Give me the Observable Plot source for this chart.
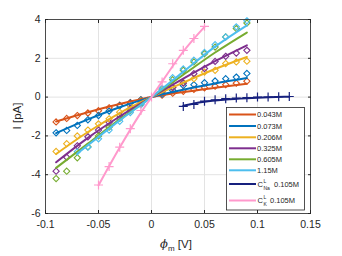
<!DOCTYPE html>
<html><head><meta charset="utf-8">
<script src="https://cdn.jsdelivr.net/npm/d3@7"></script>
<script src="https://cdn.jsdelivr.net/npm/@observablehq/plot@0.6"></script>
<style>
body{margin:0;background:#fff;}
#chart{position:relative;width:342px;height:256px;}
svg{font-family:"Liberation Sans",Arial,sans-serif;}
</style></head><body><div id="chart"></div>
<script>
const seriesNames = ["0.043M","0.073M","0.206M","0.325M","0.605M","1.15M","CNa","CK"];
const seriesColors = ["#D95319","#0072BD","#EDB120","#7E2F8E","#77AC30","#4DBEEE","#16207E","#FF99CC"];

// measured points (diamonds for concentrations)
const xMeas = [-0.09,-0.08,-0.07,-0.06,-0.05,-0.04,-0.03,-0.02,-0.01,0.01,0.02,0.03,0.04,0.05,0.06,0.07,0.08,0.09];
const iMeas043 = [-1.28,-1.1,-0.95,-0.82,-0.7,-0.55,-0.42,-0.28,-0.14,0.1,0.2,0.3,0.4,0.48,0.56,0.64,0.72,0.82];
const iMeas073 = [-1.84,-1.72,-1.46,-1.17,-0.95,-0.72,-0.45,-0.3,-0.15,0.15,0.35,0.6,0.64,0.74,0.83,0.95,1.03,1.22];
const iMeas206 = [-2.8,-2.4,-2.0,-1.7,-1.38,-1.12,-0.78,-0.45,-0.2,0.25,0.5,0.75,0.95,1.29,1.38,1.73,1.81,1.85];
const iMeas325 = [-3.82,-3.1,-2.51,-2.05,-1.7,-1.3,-0.95,-0.6,-0.3,0.3,0.5,0.72,1.21,1.47,1.84,2.1,2.27,2.41];
const iMeas605 = [-4.2,-3.82,-3.13,-2.56,-2.0,-1.55,-1.1,-0.7,-0.35,0.4,0.9,1.38,1.81,2.24,2.58,3.1,3.53,3.82];
const xMeas115 = [-0.07,-0.06,-0.05,-0.04,-0.03,-0.02,-0.01,0.01,0.02,0.03,0.04,0.05,0.06,0.07,0.08,0.09];
const iMeas115 = [-2.82,-2.58,-2.15,-1.7,-1.25,-0.8,-0.4,0.45,1.0,1.45,1.9,2.3,2.7,3.1,3.62,3.93];
// measured points (plus markers)
const xMeasNa = [0.03,0.04,0.05,0.06,0.07,0.08,0.09,0.1,0.11,0.12,0.13];
const iMeasNa = [-0.48,-0.38,-0.21,-0.14,-0.08,-0.05,-0.03,0,0,0.02,0.03];
const xMeasK = [-0.05,-0.04,-0.03,-0.02,-0.01,0,0.01,0.02,0.03,0.04,0.05];
const iMeasK = [-4.53,-3.58,-2.58,-1.63,-0.69,0,0.78,1.72,2.41,3.02,3.65];

// model fit curves
const xFit = [-0.09,-0.06,-0.03,0,0.03,0.06,0.09];
const iFit043 = [-1.26,-0.78,-0.36,0,0.26,0.48,0.69];
const iFit073 = [-1.86,-1.15,-0.52,0,0.38,0.7,0.98];
const iFit206 = [-2.93,-1.8,-0.82,0,0.75,1.45,2.07];
const iFit325 = [-3.36,-2.1,-1.0,0,0.95,1.85,2.67];
const iFit605 = [-3.65,-2.4,-1.15,0,1.15,2.3,3.33];
const xFit115 = [-0.07,-0.05,-0.03,0,0.03,0.06,0.09];
const iFit115 = [-2.91,-2.05,-1.2,0,1.3,2.6,3.7];
const xFitNa = [0.03,0.04,0.05,0.07,0.09,0.11,0.13];
const iFitNa = [-0.45,-0.33,-0.24,-0.13,-0.06,-0.01,0.02];
const xFitK = [-0.05,-0.03,-0.01,0,0.01,0.03,0.05];
const iFitK = [-4.55,-2.6,-0.8,0,0.8,2.35,3.62];

const xTicks = [-0.1,-0.05,0,0.05,0.1,0.15];
const xTickLabels = ["-0.1","-0.05","0","0.05","0.1","0.15"];
const yTicks = [-6,-4,-2,0,2,4];
const yTickLabels = ["-6","-4","-2","0","2","4"];

const zip = (xs, ys, s) => xs.map((x,i)=>({x, y: ys[i], s}));
const diamonds = [
  ...zip(xMeas,iMeas043,0), ...zip(xMeas,iMeas073,1), ...zip(xMeas,iMeas206,2),
  ...zip(xMeas,iMeas325,3), ...zip(xMeas,iMeas605,4), ...zip(xMeas115,iMeas115,5)
];
const pluses = [...zip(xMeasNa,iMeasNa,6), ...zip(xMeasK,iMeasK,7)];
const fits = [
  zip(xFit,iFit043,0), zip(xFit,iFit073,1), zip(xFit,iFit206,2), zip(xFit,iFit325,3),
  zip(xFit,iFit605,4), zip(xFit115,iFit115,5), zip(xFitNa,iFitNa,6), zip(xFitK,iFitK,7)
];

const ink = "#262626";
const plot = Plot.plot({
  width: 342, height: 256,
  marginLeft: 45, marginRight: 32, marginTop: 19, marginBottom: 43,
  style: {fontFamily: '"Liberation Sans",Arial,sans-serif', fontSize: "10px", color: ink, background: "#fff"},
  x: {domain: [-0.1, 0.15]},
  y: {domain: [-6, 4]},
  marks: [
    Plot.gridX(xTicks, {stroke: "#e3e3e3", strokeOpacity: 1}),
    Plot.gridY(yTicks, {stroke: "#e3e3e3", strokeOpacity: 1}),
    Plot.dot(diamonds, {x: "x", y: "y", symbol: "diamond2", r: 2.8, stroke: d => seriesColors[d.s], strokeWidth: 1.1}),
    Plot.dot(pluses, {x: "x", y: "y", symbol: "plus", r: 3, stroke: d => seriesColors[d.s], strokeWidth: 1.2}),
    ...fits.map((f,i) => Plot.line(f, {x: "x", y: "y", stroke: seriesColors[i], strokeWidth: 2, curve: "monotone-x"})),
    Plot.frame({stroke: ink, strokeWidth: 0.8}),
    Plot.axisX({ticks: xTicks, tickSize: -3, tickPadding: 10, tickFormat: (d,i) => xTickLabels[i], label: null, fontSize: 10.5, stroke: ink}),
    Plot.axisX({ticks: xTicks, anchor: "top", tickSize: -3, tickFormat: () => "", label: null, stroke: ink}),
    Plot.axisY({ticks: yTicks, tickSize: -3, tickPadding: 8, tickFormat: (d,i) => yTickLabels[i], label: null, fontSize: 10.5, stroke: ink}),
    Plot.axisY({ticks: yTicks, anchor: "right", tickSize: -3, tickFormat: () => "", label: null, stroke: ink})
  ]
});
document.getElementById("chart").appendChild(plot);

const svg = d3.select(plot);
// axis labels
const xl = svg.append("text").attr("x", 176).attr("y", 248).attr("text-anchor", "middle")
  .attr("font-size", 11.5).attr("fill", ink);
xl.append("tspan").attr("font-style", "italic").attr("font-family", '"DejaVu Serif",serif').text("\u03D5");
xl.append("tspan").attr("font-size", 8).attr("dy", 3).text("m");
xl.append("tspan").attr("dy", -3).text(" [V]");
svg.append("text").attr("transform", "translate(21,116) rotate(-90)").attr("text-anchor", "middle")
  .attr("font-size", 11.5).attr("fill", ink).text("I [pA]");

// legend
const lg = svg.append("g").attr("font-size", 7.5).attr("fill", ink).attr("text-anchor", "start");
lg.append("rect").attr("x", 226.5).attr("y", 107.5).attr("width", 78).attr("height", 102.5)
  .attr("fill", "#fff").attr("stroke", ink).attr("stroke-width", 0.8);
const ly = [114.5, 126, 137.3, 148.3, 159.3, 170.3, 184, 200.5];
seriesNames.forEach((n, i) => {
  lg.append("line").attr("x1", 229).attr("x2", 256).attr("y1", ly[i]).attr("y2", ly[i])
    .attr("stroke", seriesColors[i]).attr("stroke-width", 2);
  if (i < 6) {
    lg.append("text").attr("x", 257).attr("y", ly[i] + 2.7).text(n);
  } else {
    lg.append("text").attr("x", 257.5).attr("y", ly[i] + 2.7).text("C");
    lg.append("text").attr("x", 263.5).attr("y", ly[i] - 1.5).attr("font-size", 5).text("L");
    lg.append("text").attr("x", 263.5).attr("y", ly[i] + 5.5).attr("font-size", 5).text(i === 6 ? "Na" : "K");
    lg.append("text").attr("x", i === 6 ? 274 : 270).attr("y", ly[i] + 2.7).text("0.105M");
  }
});
</script></body></html>
